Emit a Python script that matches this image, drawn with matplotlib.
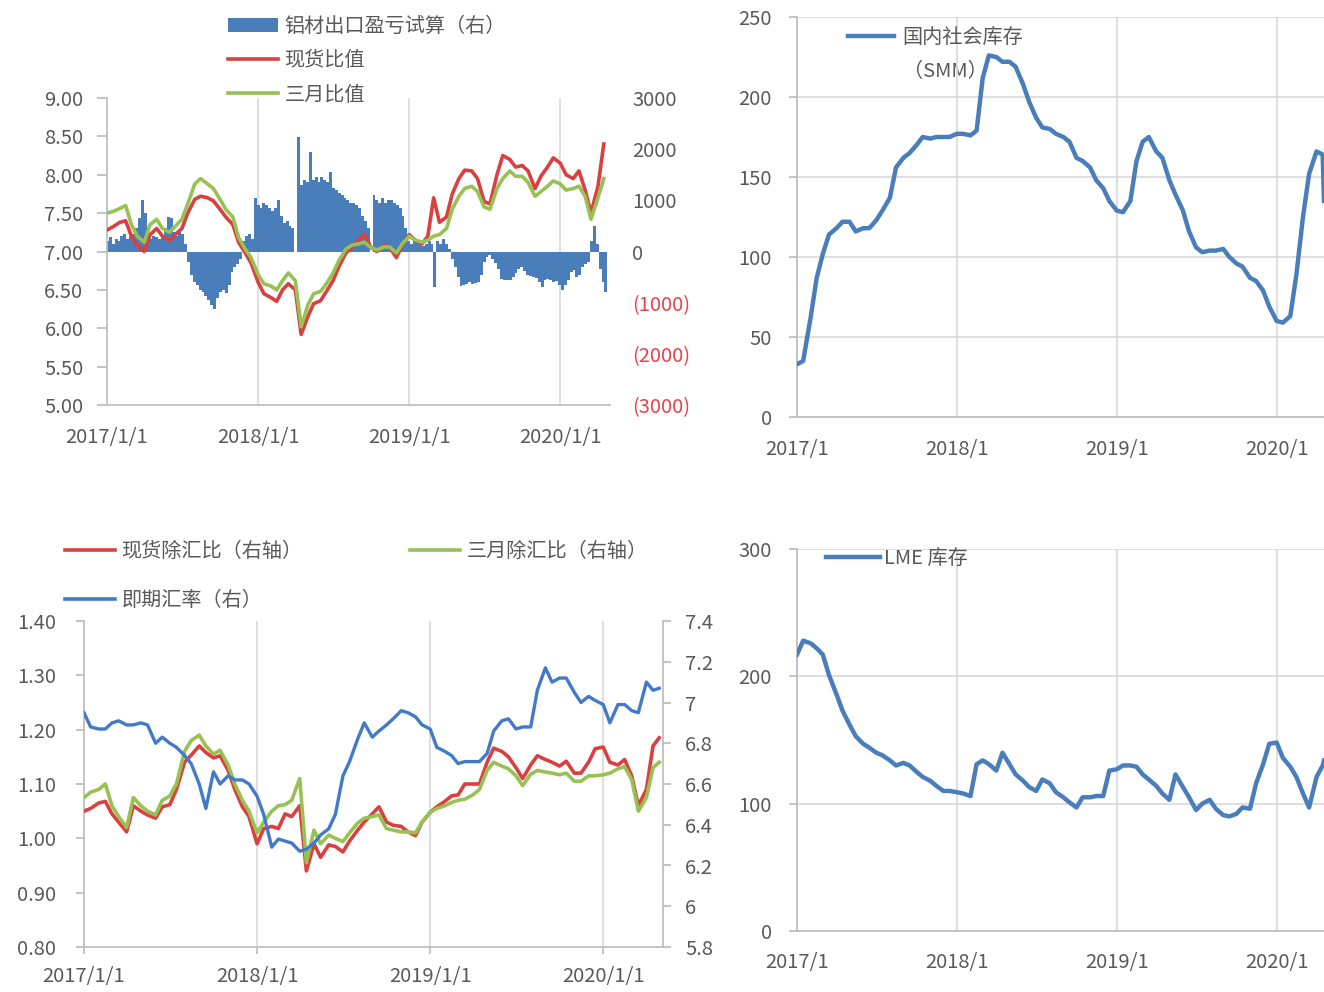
import matplotlib
matplotlib.use('Agg')
import matplotlib.pyplot as plt
import pandas as pd
from matplotlib.lines import Line2D
from matplotlib.patches import Patch

plt.rcParams['font.family'] = ['Noto Sans CJK SC', 'DejaVu Sans']

# ---------------- data ----------------
semi_dates = pd.date_range('2017-01-01', '2020-04-15', freq='SMS')      # 80 half-month points
week_dates = pd.date_range('2017-01-02', '2020-04-20', freq='W-MON')    # 173 weeks

# Panel 1: 现货比值 / 三月比值 (left) and 铝材出口盈亏试算 (right, bars)
spot_ratio = [7.28, 7.32, 7.38, 7.40, 7.20, 7.08, 7.00, 7.22, 7.30, 7.20, 7.14, 7.22,
              7.30, 7.50, 7.68, 7.72, 7.70, 7.66, 7.55, 7.45, 7.35, 7.12, 6.98, 6.85,
              6.60, 6.45, 6.40, 6.35, 6.50, 6.58, 6.50, 5.92, 6.15, 6.32, 6.36, 6.48,
              6.62, 6.80, 6.98, 7.05, 7.15, 7.22, 7.05, 7.00, 7.08, 7.05, 6.92, 7.08,
              7.22, 7.15, 7.10, 7.20, 7.70, 7.38, 7.45, 7.75, 7.95, 8.06, 8.05, 7.95,
              7.65, 7.62, 8.00, 8.25, 8.20, 8.10, 8.12, 8.05, 7.82, 7.98, 8.10, 8.22,
              8.15, 8.00, 7.95, 8.05, 7.80, 7.50, 7.85, 8.40]
m3_ratio = [7.50, 7.52, 7.56, 7.60, 7.35, 7.20, 7.12, 7.35, 7.42, 7.30, 7.25, 7.33,
            7.42, 7.62, 7.88, 7.95, 7.88, 7.82, 7.68, 7.55, 7.45, 7.18, 7.03, 6.92,
            6.70, 6.58, 6.55, 6.50, 6.62, 6.72, 6.62, 6.02, 6.30, 6.45, 6.48, 6.58,
            6.72, 6.88, 7.03, 7.08, 7.10, 7.12, 7.05, 7.02, 7.06, 7.06, 6.98, 7.10,
            7.20, 7.15, 7.12, 7.15, 7.20, 7.22, 7.30, 7.55, 7.72, 7.82, 7.85, 7.78,
            7.58, 7.55, 7.82, 7.95, 8.05, 7.98, 7.98, 7.90, 7.72, 7.78, 7.85, 7.92,
            7.88, 7.80, 7.82, 7.85, 7.72, 7.42, 7.70, 7.95]
export_pl = [
    # 2017
    200, 280, 150, 250, 200, 300, 350, 250, 300, 350, 450, 650, 1000,
    750, 350, 250, 300, 280, 250, 320, 450, 680, 650, 380, 300, 380,
    350, 150, -200, -450, -600, -650, -750, -800, -870, -950, -1050, -1130, -900,
    -800, -750, -820, -650, -400, -300, -250, -150, 200, 300, 350, 250, 1050,
    # 2018
    900, 850, 950, 900, 850, 800, 850, 1000, 700, 550, 600, 500, 450,
    0, 2240, 1300, 1400, 1350, 1950, 1400, 1450, 1350, 1450, 1400, 1350, 1560,
    1250, 1200, 1150, 1100, 1050, 1000, 950, 950, 900, 850, 700, 600, 450,
    0, 1100, 1000, 950, 1050, 950, 1000, 1000, 950, 900, 850, 700, 450, 200,
    # 2019
    150, 250, 230, 200, 100, 150, 200, 150, -700, 200, 150, 250,
    150, 50, -150, -300, -500, -680, -650, -640, -600, -640, -620, -600, -450,
    -200, -100, -60, -150, -230, -350, -540, -560, -560, -560, -500, -420, -350, -300,
    -380, -450, -480, -500, -520, -600, -700, -550, -540, -560, -600, -580, -650,
    # 2020
    -750, -650, -560, -400, -360, -500, -450, -300, -250, -200, 200, 500, 150,
    -350, -600, -800]

# Panel 2: 国内社会库存（SMM）
smm_dates = list(semi_dates) + [pd.Timestamp('2020-04-18')]
smm_stock = [33, 35, 62, 87, 102, 114, 118, 122, 122, 116, 118, 118,
             123, 129, 137, 156, 162, 165, 170, 175, 174, 175, 175, 175,
             177, 177, 176, 179, 212, 226, 225, 222, 222, 219, 208, 197,
             187, 181, 180, 177, 175, 172, 162, 160, 156, 148, 143, 135,
             129, 128, 135, 160, 172, 175, 166, 162, 148, 139, 129, 116,
             106, 103, 104, 104, 105, 100, 96, 94, 87, 85, 79, 69,
             60, 59, 63, 89, 125, 152, 166, 164, 135]

# Panel 3: 现货除汇比 / 三月除汇比 (left) and 即期汇率 (right)
fx_dates = list(semi_dates) + [pd.Timestamp('2020-04-28')]
spot_fx_ratio = [1.050, 1.055, 1.065, 1.068, 1.045, 1.030, 1.012, 1.060, 1.050, 1.043, 1.037, 1.058,
                 1.062, 1.090, 1.140, 1.153, 1.170, 1.158, 1.148, 1.152, 1.125, 1.090, 1.058, 1.040,
                 0.990, 1.018, 1.022, 1.018, 1.045, 1.040, 1.060, 0.940, 0.990, 0.965, 0.988, 0.985,
                 0.975, 0.995, 1.015, 1.030, 1.045, 1.058, 1.030, 1.024, 1.022, 1.012, 1.005, 1.030,
                 1.048, 1.058, 1.068, 1.078, 1.080, 1.100, 1.100, 1.100, 1.140, 1.166, 1.160, 1.150,
                 1.130, 1.110, 1.135, 1.152, 1.145, 1.140, 1.133, 1.142, 1.120, 1.120, 1.140, 1.165,
                 1.168, 1.140, 1.135, 1.145, 1.115, 1.060, 1.090, 1.170, 1.185]
m3_fx_ratio = [1.075, 1.085, 1.090, 1.100, 1.060, 1.040, 1.020, 1.075, 1.060, 1.050, 1.043, 1.070,
               1.078, 1.100, 1.160, 1.180, 1.190, 1.170, 1.155, 1.162, 1.135, 1.100, 1.070, 1.050,
               1.010, 1.030, 1.050, 1.060, 1.062, 1.070, 1.110, 0.955, 1.015, 0.990, 1.006, 1.000,
               0.994, 1.010, 1.028, 1.037, 1.040, 1.043, 1.018, 1.015, 1.012, 1.012, 1.010, 1.030,
               1.048, 1.055, 1.060, 1.066, 1.070, 1.072, 1.080, 1.090, 1.125, 1.140, 1.133, 1.128,
               1.115, 1.097, 1.118, 1.125, 1.122, 1.120, 1.117, 1.120, 1.105, 1.105, 1.115, 1.115,
               1.117, 1.120, 1.128, 1.132, 1.108, 1.050, 1.075, 1.130, 1.140]
spot_fx = [6.95, 6.88, 6.87, 6.87, 6.90, 6.91, 6.89, 6.89, 6.90, 6.89, 6.80, 6.83,
           6.80, 6.78, 6.74, 6.70, 6.60, 6.48, 6.66, 6.60, 6.64, 6.62, 6.62, 6.60,
           6.54, 6.45, 6.29, 6.33, 6.32, 6.31, 6.27, 6.28, 6.31, 6.35, 6.38, 6.45,
           6.64, 6.71, 6.82, 6.90, 6.83, 6.86, 6.89, 6.92, 6.96, 6.95, 6.93, 6.89,
           6.87, 6.78, 6.76, 6.74, 6.70, 6.71, 6.71, 6.71, 6.75, 6.86, 6.91, 6.92,
           6.87, 6.88, 6.88, 7.06, 7.17, 7.10, 7.12, 7.12, 7.05, 7.00, 7.03, 7.01,
           6.99, 6.90, 6.99, 6.99, 6.96, 6.95, 7.10, 7.06, 7.07]

# Panel 4: LME 库存
lme_dates = list(semi_dates) + [pd.Timestamp('2020-04-18')]
lme_stock = [217, 228, 226, 222, 217, 201, 186, 173, 162, 153, 147, 144,
             140, 138, 134, 130, 132, 130, 125, 121, 118, 114, 110, 110,
             109, 108, 106, 131, 134, 131, 126, 140, 131, 123, 118, 113,
             110, 119, 116, 109, 105, 101, 97, 105, 105, 106, 106, 126,
             127, 130, 130, 129, 123, 119, 114, 108, 103, 123, 113, 105,
             95, 100, 103, 96, 91, 90, 92, 97, 96, 116, 131, 147,
             148, 136, 129, 121, 108, 97, 121, 130, 134]

year_ticks = pd.to_datetime(['2017-01-01', '2018-01-01', '2019-01-01', '2020-01-01'])
year_labels_full = ['2017/1/1', '2018/1/1', '2019/1/1', '2020/1/1']
year_labels_short = ['2017/1', '2018/1', '2019/1', '2020/1']
p1_left_ticks = [5.0, 5.5, 6.0, 6.5, 7.0, 7.5, 8.0, 8.5, 9.0]
p1_right_ticks = [-3000, -2000, -1000, 0, 1000, 2000, 3000]
p2_ticks = [0, 50, 100, 150, 200, 250]
p3_left_ticks = [0.80, 0.90, 1.00, 1.10, 1.20, 1.30, 1.40]
p3_right_ticks = [5.8, 6.0, 6.2, 6.4, 6.6, 6.8, 7.0, 7.2, 7.4]
p3_right_labels = ['5.8', '6', '6.2', '6.4', '6.6', '6.8', '7', '7.2', '7.4']
p4_ticks = [0, 100, 200, 300]

# ---------------- style ----------------
FS = 14.5
TXT = '#595959'
SPINE = '#bfbfbf'
GRID = '#d9d9d9'
BAR_BLUE = '#4a7ebb'
RED = '#d9403f'
GREEN = '#98c154'
LINE_BLUE = '#4a7ebb'
FX_BLUE = '#4279c8'
NEG_RED = '#e8414b'

W, H = 1324, 992
fig = plt.figure(figsize=(W / 100, H / 100), dpi=100)


def box(l, t, r, b):
    return [l / W, 1 - b / H, (r - l) / W, (b - t) / H]


def style(ax, left=True, right=False, bottom=True):
    for s in ['top', 'right', 'left', 'bottom']:
        ax.spines[s].set_visible(False)
    for s, on in (('left', left), ('right', right), ('bottom', bottom)):
        if on:
            ax.spines[s].set_visible(True)
            ax.spines[s].set_color(SPINE)
            ax.spines[s].set_linewidth(1.3)
    ax.tick_params(colors=TXT, labelsize=FS, color=SPINE, width=1.3)


def px_y(y):
    return 1 - y / H


# ---------- Panel 1 ----------
ax1 = fig.add_axes(box(107, 98, 610, 405))
ax1r = ax1.twinx()
ax1.set_zorder(ax1r.get_zorder() + 1)
ax1.patch.set_visible(False)

ax1r.bar(week_dates, export_pl, width=7.0, color=BAR_BLUE, linewidth=0, zorder=2)
for d in year_ticks[1:]:
    ax1r.axvline(d, color=GRID, lw=1.2, zorder=0)
ax1.plot(semi_dates, spot_ratio, color=RED, lw=2.6, zorder=3)
ax1.plot(semi_dates, m3_ratio, color=GREEN, lw=2.6, zorder=4)

ax1.set_xlim(pd.Timestamp('2017-01-01'), pd.Timestamp('2020-04-30'))
ax1.set_ylim(5, 9)
ax1r.set_ylim(-3000, 3000)
style(ax1)
style(ax1r, left=False, bottom=False)
ax1.set_yticks(p1_left_ticks, labels=[f'{v:.2f}' for v in p1_left_ticks])
ax1.tick_params(axis='y', length=7, direction='out', pad=10)
ax1.set_xticks(year_ticks, labels=year_labels_full)
ax1.tick_params(axis='x', length=0, pad=16)
ax1r.set_yticks(p1_right_ticks,
                labels=[f'{v}' if v >= 0 else f'({-v})' for v in p1_right_ticks])
ax1r.tick_params(axis='y', length=0, pad=16)
for lbl, v in zip(ax1r.get_yticklabels(), p1_right_ticks):
    if v < 0:
        lbl.set_color(NEG_RED)

fig.legend([Patch(facecolor=BAR_BLUE, edgecolor='none'),
            Line2D([], [], color=RED, lw=2.6),
            Line2D([], [], color=GREEN, lw=2.6)],
           ['铝材出口盈亏试算（右）', '现货比值', '三月比值'],
           loc='upper left', bbox_to_anchor=(228 / W, px_y(16)),
           frameon=False, fontsize=FS, labelcolor=TXT,
           handlelength=2.5, handleheight=0.75, handletextpad=0.3,
           labelspacing=0.66, borderpad=0, borderaxespad=0)

# ---------- Panel 2 ----------
ax2 = fig.add_axes(box(797, 17, 1324, 417))
ax2.plot(smm_dates, smm_stock, color=LINE_BLUE, lw=3.2, zorder=3)
ax2.set_xlim(pd.Timestamp('2017-01-01'), pd.Timestamp('2020-04-18'))
ax2.set_ylim(0, 250)
style(ax2)
ax2.set_yticks(p2_ticks)
ax2.tick_params(axis='y', length=6, direction='out', pad=12)
ax2.set_xticks(year_ticks, labels=year_labels_short)
ax2.tick_params(axis='x', length=0, pad=16)
ax2.grid(True, color=GRID, lw=1.2, zorder=0)
ax2.set_axisbelow(True)
leg2 = ax2.legend([Line2D([], [], color=LINE_BLUE, lw=3.2)], ['国内社会库存'],
                  loc='upper left', bbox_to_anchor=(848 / W, px_y(27)),
                  bbox_transform=fig.transFigure, frameon=False, fontsize=FS,
                  labelcolor=TXT, handlelength=2.3, handletextpad=0.4,
                  borderpad=0, borderaxespad=0)
leg2.set_zorder(1)
fig.text(903 / W, px_y(72), '（SMM）', fontsize=FS, color=TXT, va='center', ha='left', zorder=1)
ax2.set_zorder(2)
ax2.patch.set_visible(False)

# ---------- Panel 3 ----------
ax3 = fig.add_axes(box(84, 621, 663, 947))
ax3r = ax3.twinx()
for d in year_ticks[1:]:
    ax3.axvline(d, color=GRID, lw=1.2, zorder=0)
ax3.plot(fx_dates, spot_fx_ratio, color=RED, lw=2.6, zorder=3)
ax3.plot(fx_dates, m3_fx_ratio, color=GREEN, lw=2.6, zorder=4)
ax3r.plot(fx_dates, spot_fx, color=FX_BLUE, lw=2.4, zorder=5)
ax3.set_xlim(pd.Timestamp('2017-01-01'), pd.Timestamp('2020-05-06'))
ax3.set_ylim(0.8, 1.4)
ax3r.set_ylim(5.8, 7.4)
style(ax3)
style(ax3r, left=False, right=True, bottom=False)
ax3.set_yticks(p3_left_ticks, labels=[f'{v:.2f}' for v in p3_left_ticks])
ax3.tick_params(axis='y', length=6, direction='out', pad=14)
ax3.set_xticks(year_ticks, labels=year_labels_full)
ax3.tick_params(axis='x', length=5, direction='out', pad=9)
ax3r.set_yticks(p3_right_ticks, labels=p3_right_labels)
ax3r.tick_params(axis='y', length=6, direction='out', pad=10)

fig.legend([Line2D([], [], color=RED, lw=2.6), Line2D([], [], color=FX_BLUE, lw=2.6)],
           ['现货除汇比（右轴）', '即期汇率（右）'],
           loc='upper left', bbox_to_anchor=(65 / W, px_y(541)),
           frameon=False, fontsize=FS, labelcolor=TXT,
           handlelength=2.5, handletextpad=0.3, labelspacing=1.4,
           borderpad=0, borderaxespad=0)
fig.legend([Line2D([], [], color=GREEN, lw=2.6)], ['三月除汇比（右轴）'],
           loc='upper left', bbox_to_anchor=(410 / W, px_y(541)),
           frameon=False, fontsize=FS, labelcolor=TXT,
           handlelength=2.5, handletextpad=0.3,
           borderpad=0, borderaxespad=0)

# ---------- Panel 4 ----------
ax4 = fig.add_axes(box(797, 549, 1324, 931))
ax4.plot(lme_dates, lme_stock, color=LINE_BLUE, lw=3.2, zorder=3)
ax4.set_xlim(pd.Timestamp('2017-01-01'), pd.Timestamp('2020-04-18'))
ax4.set_ylim(0, 300)
style(ax4)
ax4.set_yticks(p4_ticks)
ax4.tick_params(axis='y', length=6, direction='out', pad=12)
ax4.set_xticks(year_ticks, labels=year_labels_short)
ax4.tick_params(axis='x', length=0, pad=15)
ax4.grid(True, color=GRID, lw=1.2, zorder=0)
ax4.set_axisbelow(True)
ax4.legend([Line2D([], [], color=LINE_BLUE, lw=3.2)], ['LME 库存'],
           loc='upper left', bbox_to_anchor=(826 / W, px_y(548)),
           bbox_transform=fig.transFigure, frameon=False, fontsize=FS,
           labelcolor=TXT, handlelength=2.7, handletextpad=0.2,
           borderpad=0, borderaxespad=0)

fig.savefig('out.png', dpi=100)
